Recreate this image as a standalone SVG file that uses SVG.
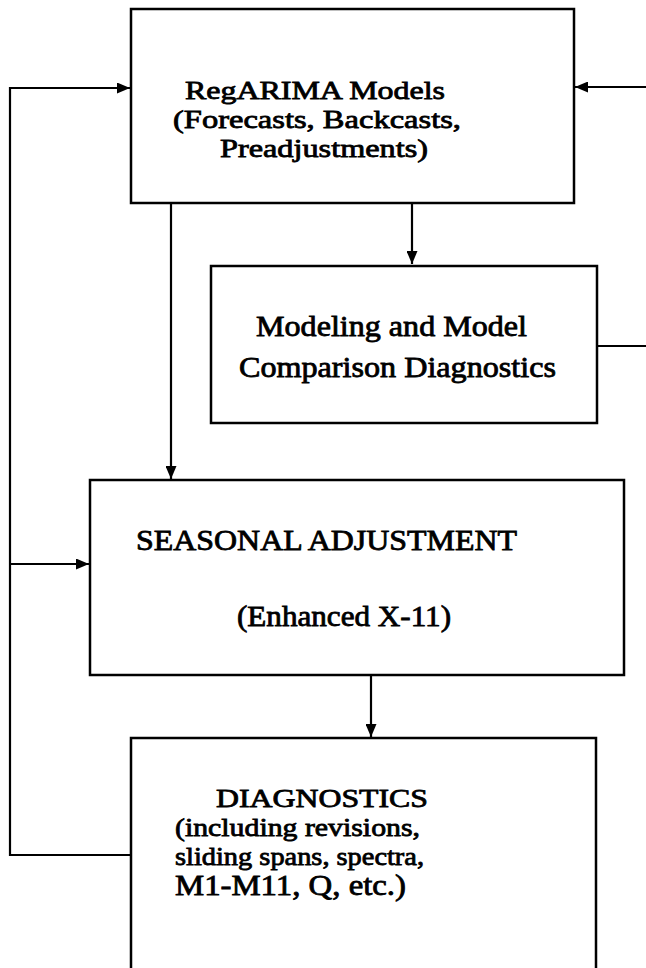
<svg xmlns="http://www.w3.org/2000/svg" width="646" height="968" viewBox="0 0 646 968">
<style>
.box{fill:none;stroke:#000;stroke-width:2.5}
.ln{fill:none;stroke:#000;stroke-width:2.2}
.t{font-family:"Liberation Serif","Times New Roman",serif;font-size:29px;fill:#000;stroke:#000;stroke-width:0.8}
.s{font-size:26px}
</style>
<defs>
<marker id="ah" markerWidth="13" markerHeight="11" refX="13" refY="5.5" orient="auto" markerUnits="userSpaceOnUse">
<path d="M0,0 L13,5.5 L0,11 Z" fill="#000"/>
</marker>
</defs>
<rect width="646" height="968" fill="#fff"/>
<g id="connectors">
<polyline class="ln" points="131,855 10,855 10,88 130,88" marker-end="url(#ah)"/>
<line class="ln" x1="10" y1="564" x2="89" y2="564" marker-end="url(#ah)"/>
<line class="ln" x1="650" y1="87" x2="575" y2="87" marker-end="url(#ah)"/>
<line class="ln" x1="597" y1="346" x2="650" y2="346"/>
<line class="ln" x1="171" y1="203" x2="171" y2="479" marker-end="url(#ah)"/>
<line class="ln" x1="412" y1="203" x2="412" y2="264" marker-end="url(#ah)"/>
<line class="ln" x1="371" y1="675" x2="371" y2="737" marker-end="url(#ah)"/>
</g>
<g id="regarima">
<rect class="box" x="131" y="9" width="443" height="194"/>
<text class="t s" x="185" y="99" textLength="260" lengthAdjust="spacingAndGlyphs">RegARIMA Models</text>
<text class="t s" x="173" y="128" textLength="288" lengthAdjust="spacingAndGlyphs">(Forecasts, Backcasts,</text>
<text class="t s" x="220" y="157" textLength="208" lengthAdjust="spacingAndGlyphs">Preadjustments)</text>
</g>
<g id="modeling">
<rect class="box" x="211" y="266" width="386" height="157"/>
<text class="t" x="256" y="336" textLength="271" lengthAdjust="spacingAndGlyphs">Modeling and Model</text>
<text class="t" x="239" y="377" textLength="317" lengthAdjust="spacingAndGlyphs">Comparison Diagnostics</text>
</g>
<g id="seasonal">
<rect class="box" x="90" y="480" width="534" height="195"/>
<text class="t" x="136" y="550" textLength="381" lengthAdjust="spacingAndGlyphs">SEASONAL ADJUSTMENT</text>
<text class="t" x="237" y="626" textLength="214" lengthAdjust="spacingAndGlyphs">(Enhanced X-11)</text>
</g>
<g id="diagnostics">
<rect class="box" x="131" y="738" width="465" height="240"/>
<text class="t s" x="216" y="807" textLength="212" lengthAdjust="spacingAndGlyphs">DIAGNOSTICS</text>
<text class="t s" x="175" y="836" textLength="245" lengthAdjust="spacingAndGlyphs">(including revisions,</text>
<text class="t s" x="175" y="865" textLength="249" lengthAdjust="spacingAndGlyphs">sliding spans, spectra,</text>
<text class="t" x="175" y="895" textLength="231" lengthAdjust="spacingAndGlyphs">M1-M11, Q, etc.)</text>
</g>
</svg>
